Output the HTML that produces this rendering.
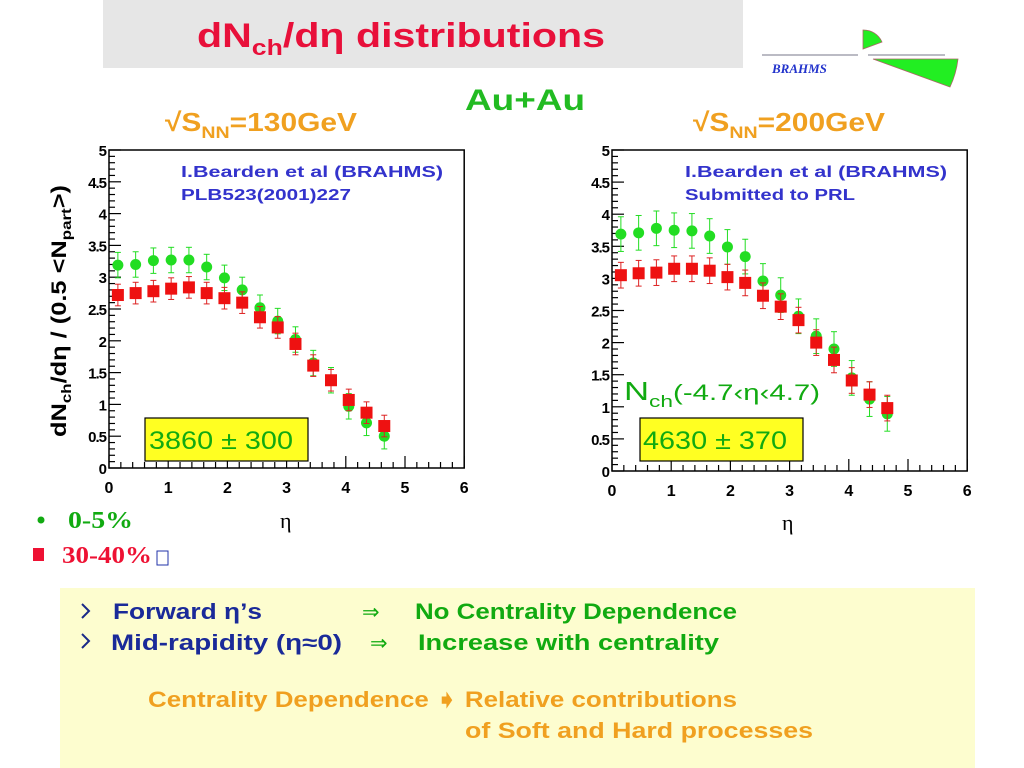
<!DOCTYPE html>
<html><head><meta charset="utf-8">
<style>
html,body{margin:0;padding:0;background:#fff;}
svg{display:block;font-family:"Liberation Sans",sans-serif;}
</style></head><body>
<svg id="s" width="1024" height="768" viewBox="0 0 1024 768" xmlns="http://www.w3.org/2000/svg">
<rect x="103" y="0" width="640" height="68" fill="#e6e6e6"/>
<text x="197" y="47" font-size="34" font-weight="bold" fill="#e8103a" textLength="408" lengthAdjust="spacingAndGlyphs">dN<tspan font-size="22" dy="8">ch</tspan><tspan dy="-8">/dη  distributions</tspan></text>
<!-- BRAHMS logo -->
<line x1="762" y1="55" x2="858" y2="55" stroke="#778" stroke-width="1"/>
<line x1="868" y1="55" x2="945" y2="55" stroke="#778" stroke-width="1"/>
<path d="M863 49 L863 30 A20 20 0 0 1 882 42 Z" fill="#22ee22" stroke="#a66" stroke-width="0.8"/>
<path d="M873 59 L958 59 A90 90 0 0 1 950 87 Z" fill="#22ee22" stroke="#a66" stroke-width="0.8"/>
<text x="772" y="73" font-size="13" font-style="italic" font-weight="bold" fill="#2233cc" font-family="'Liberation Serif',serif">BRAHMS</text>
<text x="465" y="110" font-size="30" font-weight="bold" fill="#22bb22" textLength="120" lengthAdjust="spacingAndGlyphs">Au+Au</text>
<text x="165" y="131" font-size="26" font-weight="bold" fill="#f0a020" textLength="192" lengthAdjust="spacingAndGlyphs">√S<tspan font-size="17" dy="7">NN</tspan><tspan dy="-7">=130GeV</tspan></text>
<text x="693" y="131" font-size="26" font-weight="bold" fill="#f0a020" textLength="192" lengthAdjust="spacingAndGlyphs">√S<tspan font-size="17" dy="7">NN</tspan><tspan dy="-7">=200GeV</tspan></text>
<text transform="translate(66,437) rotate(-90)" font-size="21" font-weight="bold" fill="#000" textLength="252" lengthAdjust="spacingAndGlyphs">dN<tspan font-size="14" dy="5">ch</tspan><tspan dy="-5">/dη / (0.5 &lt;N</tspan><tspan font-size="14" dy="5">part</tspan><tspan dy="-5">&gt;)</tspan></text>
<g id="plots"></g>
<text x="181" y="177" font-size="16" font-weight="bold" fill="#3333cc" textLength="262" lengthAdjust="spacingAndGlyphs">I.Bearden et al (BRAHMS)</text>
<text x="181" y="200" font-size="16" font-weight="bold" fill="#3333cc" textLength="170" lengthAdjust="spacingAndGlyphs">PLB523(2001)227</text>
<text x="685" y="177" font-size="16" font-weight="bold" fill="#3333cc" textLength="262" lengthAdjust="spacingAndGlyphs">I.Bearden et al (BRAHMS)</text>
<text x="685" y="200" font-size="16" font-weight="bold" fill="#3333cc" textLength="170" lengthAdjust="spacingAndGlyphs">Submitted to PRL</text>
<rect x="145" y="418" width="163" height="43" fill="#ffff22" stroke="#000" stroke-width="1.2"/>
<text x="149" y="449" font-size="25" fill="#11aa11" textLength="144" lengthAdjust="spacingAndGlyphs">3860 ± 300</text>
<rect x="640" y="418" width="163" height="43" fill="#ffff22" stroke="#000" stroke-width="1.2"/>
<text x="643" y="449" font-size="25" fill="#11aa11" textLength="144" lengthAdjust="spacingAndGlyphs">4630 ± 370</text>
<text x="624" y="400" font-size="26" fill="#11aa11" textLength="196" lengthAdjust="spacingAndGlyphs">N<tspan font-size="17" dy="7">ch</tspan><tspan dy="-7" font-size="22">(-4.7‹η‹4.7)</tspan></text>
<text x="280" y="528" font-size="22" fill="#000" font-family="'Liberation Serif',serif">η</text>
<text x="782" y="530" font-size="22" fill="#000" font-family="'Liberation Serif',serif">η</text>
<circle cx="41" cy="520" r="3.5" fill="#11aa11"/>
<text x="68" y="528" font-size="24" font-weight="bold" fill="#11aa11" font-family="'Liberation Serif',serif" textLength="65" lengthAdjust="spacingAndGlyphs">0-5%</text>
<rect x="33" y="548" width="11" height="13" fill="#ee1133"/>
<text x="62" y="563" font-size="24" font-weight="bold" fill="#ee1133" font-family="'Liberation Serif',serif" textLength="90" lengthAdjust="spacingAndGlyphs">30-40%</text>
<rect x="157" y="551" width="11" height="14" fill="none" stroke="#2233aa" stroke-width="1"/>
<rect x="60" y="588" width="915" height="180" fill="#fdfdcf"/>
<path d="M82 604 L89 611 L82 618" fill="none" stroke="#1a2a88" stroke-width="2"/>
<path d="M82 634 L89 641 L82 648" fill="none" stroke="#1a2a88" stroke-width="2"/>
<text x="113" y="619" font-size="22" font-weight="bold" fill="#1a2a99" textLength="149" lengthAdjust="spacingAndGlyphs">Forward η’s</text>
<text x="362" y="619" font-size="21" fill="#11aa11">⇒</text>
<text x="415" y="619" font-size="22" font-weight="bold" fill="#11aa11" textLength="322" lengthAdjust="spacingAndGlyphs">No Centrality Dependence</text>
<text x="111" y="650" font-size="22" font-weight="bold" fill="#1a2a99" textLength="231" lengthAdjust="spacingAndGlyphs">Mid-rapidity (η≈0)</text>
<text x="370" y="650" font-size="21" fill="#11aa11">⇒</text>
<text x="418" y="650" font-size="22" font-weight="bold" fill="#11aa11" textLength="301" lengthAdjust="spacingAndGlyphs">Increase with centrality</text>
<text x="148" y="707" font-size="22" font-weight="bold" fill="#f0a020" textLength="589" lengthAdjust="spacingAndGlyphs">Centrality Dependence ➧ Relative contributions</text>
<text x="465" y="738" font-size="22" font-weight="bold" fill="#f0a020" textLength="348" lengthAdjust="spacingAndGlyphs">of Soft and Hard processes</text>
</svg>
<script>
(function(){
var NS="http://www.w3.org/2000/svg",g=document.getElementById("plots");
function el(t,a){var e=document.createElementNS(NS,t);for(var k in a)e.setAttribute(k,a[k]);g.appendChild(e);return e;}
function plot(x0,y0,sx,sy,G,R,ge,re){
 var X=function(v){return x0+v*sx},Y=function(v){return y0-v*sy};
 el("rect",{x:X(0),y:Y(5),width:6*sx,height:5*sy,fill:"none",stroke:"#000","stroke-width":1.5});
 for(var i=0;i<=50;i++){var v=i/10,L=(i%5==0)?12:6;el("line",{x1:X(0),x2:X(0)+L,y1:Y(v),y2:Y(v),stroke:"#000","stroke-width":1.2});}
 for(var i=0;i<=30;i++){var v=i/5,L=(i%5==0)?12:6;el("line",{x1:X(v),x2:X(v),y1:y0,y2:y0-L,stroke:"#000","stroke-width":1.2});}
 for(var i=0;i<=10;i++){var t=el("text",{x:X(0)-3,y:Y(i/2)+6,"font-size":15,"font-weight":"bold","text-anchor":"end","letter-spacing":"-1"});t.textContent=(i/2).toString();}
 for(var i=0;i<=6;i++){var t=el("text",{x:X(i),y:y0+25,"font-size":16,"font-weight":"bold","text-anchor":"middle"});t.textContent=i;}
 for(var i=0;i<G.length;i++){var e=0.15+0.3*i,px=X(e);
  el("line",{x1:px,x2:px,y1:Y(G[i]-ge),y2:Y(G[i]+ge),stroke:"#22dd22","stroke-width":1});
  el("line",{x1:px-3,x2:px+3,y1:Y(G[i]-ge),y2:Y(G[i]-ge),stroke:"#22dd22"});
  el("line",{x1:px-3,x2:px+3,y1:Y(G[i]+ge),y2:Y(G[i]+ge),stroke:"#22dd22"});
  el("circle",{cx:px,cy:Y(G[i]),r:5.5,fill:"#22dd22"});}
 for(var i=0;i<R.length;i++){var e=0.15+0.3*i,px=X(e);
  el("line",{x1:px,x2:px,y1:Y(R[i]-re),y2:Y(R[i]+re),stroke:"#dd2222","stroke-width":1});
  el("line",{x1:px-3,x2:px+3,y1:Y(R[i]-re),y2:Y(R[i]-re),stroke:"#dd2222"});
  el("line",{x1:px-3,x2:px+3,y1:Y(R[i]+re),y2:Y(R[i]+re),stroke:"#dd2222"});
  el("rect",{x:px-6,y:Y(R[i])-6,width:12,height:12,fill:"#ee1111"});}
}
plot(109,468,59.2,63.6,
 [3.19,3.2,3.26,3.27,3.27,3.16,2.99,2.8,2.52,2.31,2.02,1.65,1.38,0.97,0.71,0.5],
 [2.72,2.75,2.78,2.82,2.84,2.75,2.67,2.6,2.37,2.21,1.95,1.61,1.38,1.07,0.87,0.66],0.2,0.17);
plot(612,471,59.2,64.2,
 [3.69,3.71,3.78,3.75,3.74,3.66,3.49,3.34,2.96,2.74,2.41,2.1,1.9,1.45,1.12,0.89],
 [3.05,3.08,3.09,3.15,3.15,3.12,3.02,2.93,2.73,2.56,2.35,2.0,1.73,1.41,1.19,0.98],0.27,0.2);
})();
</script>
</body></html>
